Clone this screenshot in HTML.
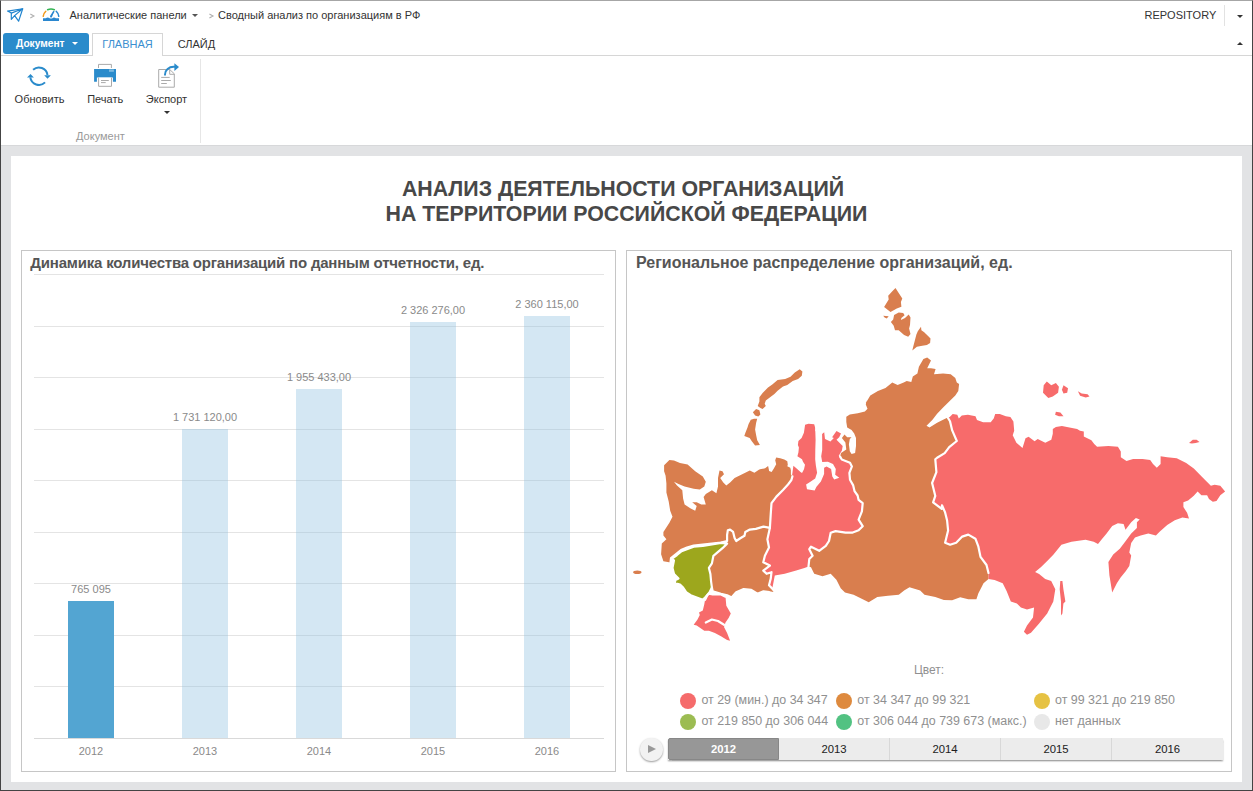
<!DOCTYPE html>
<html><head><meta charset="utf-8">
<style>
*{box-sizing:border-box;margin:0;padding:0}
html,body{width:1253px;height:791px;overflow:hidden;background:#fff}
body{font-family:"Liberation Sans",sans-serif;position:relative}
.a{position:absolute;white-space:nowrap;line-height:1}
.f11{font-size:11px}
#frame{position:absolute;left:0;top:0;width:1253px;height:791px;border-left:1px solid #444;border-right:1px solid #444;border-bottom:1px solid #444;border-top:1px solid #a6a6a6;pointer-events:none;z-index:50}
.bar{position:absolute;width:46px;background:rgba(139,190,223,0.37)}
.grid{position:absolute;left:34px;width:570px;height:1px;background:#e4e4e4}
.blab{position:absolute;font-size:11px;color:#8a8a8a;line-height:1;white-space:nowrap;text-align:center;width:114px}
.lg{position:absolute;font-size:12.45px;color:#909090;line-height:1;white-space:nowrap}
.dot{position:absolute;width:16px;height:16px;border-radius:50%}
.seg{position:absolute;top:738px;height:22px;width:111px;background:#ececec;border-right:1px solid #d8d8d8;font-size:11.3px;font-weight:400;color:#1e1e1e;-webkit-text-stroke:0.05px #1e1e1e;text-align:center;line-height:22px}
</style></head><body>
<div id="frame"></div>

<!-- top bar -->
<svg class="a" style="left:0;top:0" width="240" height="100" viewBox="0 0 240 100">
 <g fill="none" stroke="#1f84cf" stroke-width="1.15" stroke-linejoin="round" stroke-linecap="round">
  <path d="M7.5 11.1 L22.7 8.8 L18.6 21.2 L14.6 15.6 L11.3 19.4 L11.3 13.1 Z"/>
  <path d="M11.3 13.1 L22.7 8.8 M14.6 15.6 L22.7 8.8"/>
 </g>
 <g fill="none" stroke-width="1.5" stroke-linecap="round">
  <path d="M43.2 16.3 A8.1 8.1 0 0 1 45.8 11.3" stroke="#f19a1d"/>
  <path d="M47.6 9.7 A8.1 8.1 0 0 1 54.4 9.7" stroke="#34b453"/>
  <path d="M56.2 11.3 A8.1 8.1 0 0 1 58.8 16.3" stroke="#2a87cf"/>
  <path d="M50.9 16.2 L53.7 11.7" stroke="#2a87cf" stroke-width="1.6"/>
 </g>
 <path d="M43 18.2 L45.8 18.2 Q47.7 16.6 49.6 18.2 Q51 19 52.4 18.2 Q53.9 16.6 55.9 18.2 L59 18.2 L59 20.9 L43 20.9 Z" fill="#2a87cf"/>
 <path d="M49.8 17.2 L51.8 17.4 L53.9 11.5 Z" fill="#2a87cf"/>
 <path d="M30.3 14 L33.9 16 L30.3 18 M209.4 14 L213 16 L209.4 18" fill="none" stroke="#b0b0b0" stroke-width="1.1"/>
 <!-- refresh -->
 <g fill="none" stroke="#2a8bcb" stroke-width="2">
  <path d="M33.1 69.7 A8.7 8.7 0 0 1 47.5 75"/>
  <path d="M30.3 77.4 A8.7 8.7 0 0 0 45.05 82.35"/>
 </g>
 <path d="M44.2 75.3 L50.9 75.3 L47.5 78.8 Z M27 77.4 L33.9 77.4 L30.5 74 Z" fill="#2a8bcb"/>
 <!-- printer -->
 <path d="M98.5 68 V64.4 H111.4 V68" fill="none" stroke="#aaa" stroke-width="1"/>
 <path d="M94.1 69 H116 V81.8 H112.9 V77.6 H96.9 V81.8 H94.1 Z" fill="#2a8bcb"/>
 <rect x="109" y="69.4" width="4.9" height="2.4" fill="#7ab8e0"/>
 <path d="M98.6 77.6 V86.3 H111.5 V77.6" fill="#fff" stroke="#aaa" stroke-width="1"/>
 <path d="M101 80.5 H108.8 M101 82.6 H105.7" stroke="#aaa" stroke-width="1"/>
 <!-- export -->
 <path d="M158.7 69.5 H169.7 L174.3 73.8 V87.2 H158.7 Z" fill="#fff" stroke="#aaa" stroke-width="1"/>
 <path d="M169.7 69.5 V74.3 H174.3" fill="none" stroke="#aaa" stroke-width="1"/>
 <path d="M161.2 77.4 H169.7 M161.2 80.5 H170.8 M161.2 83.5 H166.8" stroke="#aaa" stroke-width="1"/>
 <path d="M165 75.4 V74.5 A8.6 7.8 0 0 1 173.6 66.8 H175" fill="none" stroke="#2a8bcb" stroke-width="1.9"/>
 <path d="M174.4 63.2 L179 67.1 L174.4 71 Z" fill="#2a8bcb"/>
</svg>


<div class="a f11" style="left:69.5px;top:9.7px;color:#333">Аналитические панели</div>
<div class="a" style="left:192px;top:14px;width:0;height:0;border-left:3px solid transparent;border-right:3px solid transparent;border-top:3px solid #555"></div>

<div class="a f11" style="left:218px;top:9.7px;color:#333">Сводный анализ по организациям в РФ</div>
<div class="a f11" style="left:1144.5px;top:9.8px;color:#333">REPOSITORY</div>
<div class="a" style="left:1224px;top:5px;width:1px;height:21px;background:#e2e2e2"></div>
<div class="a" style="left:1237px;top:14.5px;width:0;height:0;border-left:3px solid transparent;border-right:3px solid transparent;border-top:3px solid #333"></div>

<!-- tabs row -->
<div class="a" style="left:1px;top:55px;width:1251px;height:1px;background:#d6d6d6"></div>
<div class="a" style="left:3px;top:33px;width:86px;height:21px;background:#2a8bcb;border-radius:3px"></div>
<div class="a" style="left:16px;top:38.5px;font-size:10.2px;font-weight:700;color:#fff">Документ</div>
<div class="a" style="left:72px;top:42px;width:0;height:0;border-left:3px solid transparent;border-right:3px solid transparent;border-top:3px solid #fff"></div>
<div class="a" style="left:92px;top:33px;width:71px;height:23px;background:#fff;border:1px solid #d6d6d6;border-bottom:none"></div>
<div class="a f11" style="left:102.3px;top:38.7px;color:#3b8fd0">ГЛАВНАЯ</div>
<div class="a f11" style="left:177.7px;top:38.7px;color:#333">СЛАЙД</div>
<div class="a" style="left:1237px;top:42px;width:0;height:0;border-left:3px solid transparent;border-right:3px solid transparent;border-bottom:3px solid #333"></div>

<!-- ribbon -->

<div class="a f11" style="left:14.6px;top:93.7px;color:#333">Обновить</div>
<div class="a f11" style="left:87.2px;top:93.7px;color:#333">Печать</div>
<div class="a f11" style="left:145.8px;top:93.7px;color:#333">Экспорт</div>
<div class="a" style="left:164px;top:111px;width:0;height:0;border-left:3px solid transparent;border-right:3px solid transparent;border-top:3px solid #333"></div>
<div class="a f11" style="left:76px;top:130.7px;color:#999">Документ</div>
<div class="a" style="left:200px;top:59px;width:1px;height:84px;background:#e6e6e6"></div>

<!-- gray work area -->
<div class="a" style="left:1px;top:145px;width:1251px;height:645px;background:#e2e3e5;border-top:1px solid #d7d8da"></div>
<div class="a" style="left:11px;top:156px;width:1231px;height:626px;background:#fff"></div>

<!-- title -->
<div class="a" style="left:11px;top:177px;width:1224px;text-align:center;font-size:21.33px;font-weight:700;color:#484848;line-height:25px">АНАЛИЗ ДЕЯТЕЛЬНОСТИ ОРГАНИЗАЦИЙ</div>
<div class="a" style="left:11px;top:202px;width:1231px;text-align:center;font-size:21.33px;font-weight:700;color:#484848;line-height:25px">НА ТЕРРИТОРИИ РОССИЙСКОЙ ФЕДЕРАЦИИ</div>

<!-- left panel -->
<div class="a" style="left:21px;top:250px;width:595px;height:522px;border:1px solid #c6c6c6"></div>
<div class="a" style="left:30.3px;top:255.1px;font-size:15px;letter-spacing:-0.2px;font-weight:700;color:#555">Динамика количества организаций по данным отчетности, ед.</div>

<div id="chart">
<div class="grid" style="top:274px"></div>
<div class="grid" style="top:326px"></div>
<div class="grid" style="top:377px"></div>
<div class="grid" style="top:429px"></div>
<div class="grid" style="top:480px"></div>
<div class="grid" style="top:532px"></div>
<div class="grid" style="top:583px"></div>
<div class="grid" style="top:635px"></div>
<div class="grid" style="top:686px"></div>
<div class="grid" style="top:738px;background:#d9d9d9"></div>
<div class="bar" style="left:182px;top:429px;height:309px"></div>
<div class="bar" style="left:296px;top:389px;height:349px"></div>
<div class="bar" style="left:410px;top:322px;height:416px"></div>
<div class="bar" style="left:524px;top:316px;height:422px"></div>
<div class="bar" style="left:68px;top:601px;height:137px;background:#53a5d2"></div>
<div class="blab" style="left:34px;top:583.7px">765 095</div>
<div class="blab" style="left:148px;top:411.7px">1 731 120,00</div>
<div class="blab" style="left:262px;top:371.7px">1 955 433,00</div>
<div class="blab" style="left:376px;top:304.7px">2 326 276,00</div>
<div class="blab" style="left:490px;top:298.7px">2 360 115,00</div>
<div class="blab" style="left:34px;top:745.7px">2012</div>
<div class="blab" style="left:148px;top:745.7px">2013</div>
<div class="blab" style="left:262px;top:745.7px">2014</div>
<div class="blab" style="left:376px;top:745.7px">2015</div>
<div class="blab" style="left:490px;top:745.7px">2016</div>
</div>

<!-- right panel -->
<div class="a" style="left:626px;top:250px;width:606px;height:522px;border:1px solid #c6c6c6"></div>
<div class="a" style="left:636px;top:255.3px;font-size:16px;font-weight:700;color:#555">Региональное распределение организаций, ед.</div>

<!-- MAP -->
<svg class="a" id="map" style="left:0;top:0" width="1253" height="791" viewBox="0 0 1253 791">
<polygon points="799.7,369.3 802.4,371.5 801.8,375.8 798.1,379.0 792.7,381.1 787.3,384.9 783.0,386.5 777.6,390.8 774.4,394.0 770.1,397.3 765.8,400.5 764.7,403.7 765.8,405.9 762.6,409.1 760.4,408.0 757.7,405.9 759.4,401.6 759.4,397.3 762.6,393.0 768.0,387.6 772.3,384.4 777.6,380.1 785.2,379.0 790.5,376.8 794.8,372.5" fill="#d97e4e"/>
<polygon points="756.1,409.1 759.4,410.2 760.4,414.5 758.3,416.6 755.1,415.5 752.9,412.3" fill="#d97e4e"/>
<polygon points="754.0,418.8 757.2,418.8 756.1,423.1 755.1,429.5 756.1,434.9 757.2,440.3 759.9,445.1 755.1,445.6 751.8,441.3 749.7,438.1 744.3,436.0 745.4,432.7 747.5,427.4 748.6,424.1 750.8,419.8" fill="#d97e4e"/>
<polygon points="883.2,315.8 888.7,316.2 886.8,318.5 884.6,317.6" fill="#d97e4e"/>
<polygon points="895.5,288.0 898.7,293.0 902.3,298.5 900.9,302.1 901.4,306.7 896.8,308.5 890.5,312.1 884.1,307.1 888.7,299.4 888.2,295.7 892.3,291.2" fill="#d97e4e"/>
<polygon points="894.1,314.9 898.7,312.6 903.2,313.0 904.6,315.3 901.4,318.0 900.9,319.9 905.0,318.0 908.7,314.4 910.5,317.6 910.0,324.9 909.1,328.5 910.5,334.0 908.2,336.7 904.1,334.9 898.7,330.3 895.0,330.3 893.7,325.8 890.9,322.1 893.2,319.4" fill="#d97e4e"/>
<polygon points="921.0,326.7 921.4,330.3 924.2,332.2 927.8,335.8 930.5,338.5 930.1,343.1 926.9,344.9 922.3,345.8 916.9,346.7 912.3,350.4 913.2,346.7 915.1,339.4 916.4,334.4 917.8,331.2" fill="#d97e4e"/>
<ellipse cx="637.3" cy="572.2" rx="4.2" ry="1.8" fill="#d97e4e"/>
<polygon points="664.1,465.2 669.4,459.9 674.0,460.6 680.0,462.9 687.6,464.4 695.2,471.2 702.8,476.5 705.8,481.8 704.3,486.4 699.8,489.4 693.7,488.7 684.6,486.4 678.5,484.1 674.0,481.8 677.0,485.6 682.3,490.2 683.1,498.5 684.6,504.6 690.7,508.4 695.2,510.7 696.7,506.1 692.2,502.3 696.7,502.3 701.3,504.6 705.8,504.6 703.6,497.0 705.8,494.0 711.9,490.2 716.4,493.2 718.0,486.4 718.0,478.1 719.5,470.5 722.5,471.2 724.0,474.3 720.2,478.1 723.3,482.6 726.3,485.6 730.1,482.6 734.6,478.1 742.2,474.3 749.8,470.5 754.4,472.7 758.9,469.7 760.0,469.3 765.1,468.3 768.1,466.0 768.6,468.3 769.1,470.9 771.6,471.9 773.7,468.8 776.2,464.3 775.2,460.2 776.2,457.5 780.2,458.2 784.3,459.5 787.3,461.2 787.8,464.8 787.3,466.3 790.3,467.8 790.9,470.3 790.9,474.4 792.4,476.4 791.4,480.0 788.0,484.5 783.0,490.0 776.4,496.6 771.5,503.2 770.7,514.7 769.9,527.8 763.5,526.6 755.9,528.9 749.8,529.6 745.3,531.9 744.5,535.7 740.7,538.0 736.2,541.0 734.6,538.0 733.1,531.9 730.1,529.6 727.8,530.4 727.1,534.9 727.1,541.0 721.0,542.5 711.9,543.5 702.8,544.5 693.7,545.5 687.0,547.5 681.0,550.0 676.0,554.0 671.0,558.0 670.5,562.5 663.4,561.2 661.1,554.3 661.8,543.6 666.4,539.3 663.4,535.5 663.4,531.9 669.4,522.8 672.5,516.7 670.2,510.7 668.7,501.6 666.4,492.5 666.4,483.4 665.6,475.8 664.1,471.2" fill="#d97e4e"/>
<polygon points="769.9,527.8 763.5,526.6 755.9,528.9 749.8,529.6 745.3,531.9 744.5,535.7 740.7,538.0 736.2,541.0 734.6,538.0 733.1,531.9 730.1,529.6 727.8,530.4 727.1,534.9 727.1,541.0 727.1,543.6 722.5,548.2 717.2,552.7 713.4,555.8 711.9,563.4 708.9,567.9 710.4,574.0 711.1,581.6 711.9,587.6 712.7,591.4 721.0,593.7 727.1,595.2 731.6,597.5 736.2,592.2 743.7,589.1 751.3,589.9 757.4,593.7 763.5,591.4 769.5,592.2 776.3,593.7 772.3,588.6 769.0,585.3 770.7,578.8 771.5,572.2 766.6,573.8 763.3,570.6 769.9,565.6 763.3,562.3 764.9,555.8 769.0,547.5 767.4,539.3" fill="#d97e4e"/>
<polygon points="727.1,543.6 722.5,548.2 717.2,552.7 713.4,555.8 711.9,563.4 708.9,567.9 710.4,574.0 711.1,581.6 711.9,587.6 709.6,592.2 705.8,596.7 702.8,599.8 696.7,597.5 690.7,595.2 686.1,592.2 683.1,587.6 680.0,584.6 674.7,583.1 675.5,580.0 678.5,578.5 674.0,574.0 672.5,567.9 674.0,560.3 671.7,558.8 677.0,555.0 681.6,551.2 687.6,549.0 693.7,546.7 702.8,545.9 711.9,544.4 721.0,542.9" fill="#9da71d"/>
<polygon points="708.9,593.7 712.7,594.5 721.0,594.5 725.5,596.7 726.3,605.8 730.8,613.4 728.6,618.0 725.5,622.5 724.0,627.1 727.1,633.1 730.1,640.7 727.1,640.0 721.0,636.2 714.9,633.1 708.9,630.8 704.3,630.8 696.7,625.5 693.7,624.8 697.5,619.5 699.8,614.9 699.0,612.6 702.8,610.4 704.3,604.3 705.1,599.8 707.3,595.2" fill="#f76b6b"/>
<polygon points="791.4,480.0 792.4,472.9 793.4,465.8 796.9,468.8 800.5,471.9 802.0,472.9 804.0,469.3 805.0,464.8 803.0,461.8 802.0,459.2 797.4,456.2 798.4,452.6 798.9,447.6 797.9,445.1 798.4,441.0 801.6,437.9 803.9,432.8 805.1,424.8 808.5,423.7 814.2,424.2 815.3,428.2 815.3,431.0 822.1,433.9 824.2,432.3 825.0,438.9 830.4,441.6 833.9,438.1 832.1,437.2 836.5,431.0 841.0,433.6 839.2,437.2 836.5,439.8 839.2,442.5 842.7,446.0 841.9,450.4 839.2,454.9 838.6,455.1 841.8,459.5 850.0,462.7 851.9,466.4 849.4,472.8 850.0,479.7 853.2,485.4 854.5,491.1 857.6,495.5 858.6,499.9 862.7,503.2 861.9,511.4 858.6,519.6 862.7,526.2 858.6,530.3 852.1,532.7 845.5,532.7 835.6,531.1 830.7,532.7 829.0,541.0 825.8,545.9 819.2,550.8 811.0,546.7 809.3,549.2 812.6,555.8 809.3,559.0 808.5,566.4 804.4,568.1 796.2,570.6 784.7,573.8 774.8,575.5 772.3,588.6 769.0,585.3 770.7,578.8 771.5,572.2 766.6,573.8 763.3,570.6 769.9,565.6 763.3,562.3 764.9,555.8 769.0,547.5 767.4,539.3 769.9,527.8 770.7,514.7 771.5,503.2 776.4,496.6 783.0,490.0 788.0,484.5" fill="#f76b6b"/>
<polygon points="866.6,400.0 865.8,404.4 867.5,408.8 864.9,411.5 857.8,413.3 849.8,414.6 846.3,416.8 846.3,422.1 847.2,427.4 851.6,430.1 854.2,433.6 856.0,438.1 856.0,446.0 855.1,453.1 851.6,454.0 849.8,451.3 848.9,444.2 849.8,438.9 851.6,437.2 847.2,437.2 844.5,434.5 841.9,438.1 845.4,442.5 846.3,449.6 841.0,453.1 840.1,456.6 841.8,459.5 850.0,462.7 851.9,466.4 849.4,472.8 850.0,479.7 853.2,485.4 854.5,491.1 857.6,495.5 858.6,499.9 862.7,503.2 861.9,511.4 858.6,519.6 862.7,526.2 858.6,530.3 852.1,532.7 845.5,532.7 835.6,531.1 830.7,532.7 829.0,541.0 825.8,545.9 819.2,550.8 811.0,546.7 809.3,549.2 812.6,555.8 809.3,559.0 808.5,566.4 811.0,567.3 814.2,573.8 822.5,576.3 830.7,573.8 836.4,579.7 840.7,588.3 845.0,592.6 853.6,594.7 862.2,599.0 868.7,602.2 877.3,596.9 888.0,595.8 898.8,594.7 904.1,590.4 909.5,587.2 920.2,590.4 924.5,594.7 935.3,596.9 943.9,600.1 952.1,600.3 960.2,597.3 968.3,599.3 976.4,599.3 978.4,593.3 981.5,587.2 983.5,583.2 988.5,579.1 988.5,573.0 986.5,565.0 980.5,556.9 978.4,546.7 975.4,538.7 968.3,534.6 962.2,536.6 956.2,542.7 950.1,544.7 945.1,542.7 948.1,530.6 947.1,520.5 945.1,512.4 942.0,505.3 941.7,508.8 933.1,502.3 935.3,495.9 932.1,483.0 936.4,472.2 935.3,459.3 937.1,457.7 944.7,453.1 949.2,447.1 956.8,441.0 952.2,430.4 950.0,421.3 947.7,417.5 943.1,419.8 937.1,422.8 929.5,427.4 926.5,425.8 932.5,419.8 937.1,413.7 943.1,407.6 949.2,401.6 955.3,395.5 958.3,391.0 959.1,384.1 956.8,382.6 955.3,378.1 950.7,374.3 943.1,373.5 934.0,374.3 935.6,369.0 931.0,368.2 927.2,368.2 931.0,360.6 927.2,357.6 923.4,359.1 918.9,366.7 917.4,373.5 912.8,376.5 911.3,381.9 906.7,381.1 903.7,382.6 897.6,384.9 892.3,382.6 885.5,387.9 877.9,391.0 870.3,395.5 865.8,403.1" fill="#d97e4e"/>
<polygon points="947.7,417.5 949.7,417.0 952.7,414.0 957.3,414.7 958.8,418.5 961.8,415.5 967.9,414.7 975.5,416.3 977.0,420.0 983.1,422.3 990.7,422.3 993.7,418.5 995.2,414.0 999.8,414.0 1005.8,416.3 1010.4,417.0 1013.4,421.6 1014.2,430.7 1012.7,435.2 1016.4,442.8 1022.5,448.1 1025.5,438.2 1028.6,436.7 1034.6,441.3 1037.7,439.0 1045.3,442.8 1051.3,439.8 1052.8,433.7 1052.8,429.1 1055.9,426.9 1061.9,426.1 1069.5,427.6 1077.1,429.1 1080.0,430.7 1083.8,431.6 1083.8,436.4 1091.4,440.2 1094.2,444.0 1097.1,446.8 1108.4,445.9 1117.9,446.8 1120.8,451.5 1120.8,457.2 1126.5,461.0 1133.1,459.1 1142.6,459.1 1150.2,460.1 1153.0,463.9 1156.8,467.7 1160.6,463.9 1160.6,456.3 1167.2,457.2 1176.7,458.2 1186.2,462.9 1193.8,468.6 1201.4,476.2 1207.1,481.9 1210.9,485.7 1214.6,484.7 1220.3,485.7 1225.1,491.4 1220.3,495.2 1216.5,500.9 1212.8,501.8 1209.0,499.0 1207.1,495.2 1201.4,495.2 1197.6,491.4 1193.8,495.7 1188.1,500.4 1183.4,502.3 1183.4,507.1 1187.1,512.8 1189.0,518.4 1182.4,517.5 1174.8,520.3 1167.2,525.1 1159.6,531.7 1155.9,535.5 1148.3,533.6 1140.7,535.5 1135.0,537.4 1131.2,543.1 1129.3,552.6 1131.2,555.4 1129.3,565.9 1125.5,571.5 1120.8,577.2 1117.0,582.9 1112.2,592.4 1109.4,575.3 1108.4,562.1 1113.2,554.5 1119.8,548.8 1125.5,541.2 1131.2,533.6 1136.9,527.9 1136.9,522.2 1139.7,519.4 1135.9,518.1 1131.2,522.2 1125.5,529.8 1123.6,524.1 1117.9,523.2 1112.2,526.0 1106.6,533.6 1101.8,539.3 1098.0,544.0 1093.7,541.7 1085.6,539.7 1071.5,541.7 1061.4,544.7 1053.3,554.8 1047.2,560.9 1041.1,567.0 1035.1,572.0 1039.1,574.1 1045.2,579.1 1051.2,581.1 1055.3,589.2 1053.3,601.4 1047.2,613.5 1039.1,623.6 1031.0,632.7 1027.0,634.7 1023.9,631.7 1027.0,625.6 1033.0,617.5 1034.1,607.4 1027.0,609.4 1020.9,607.4 1016.9,603.4 1010.8,601.4 1006.7,591.2 1002.7,583.2 994.6,580.1 988.5,579.1 988.5,573.0 986.5,565.0 980.5,556.9 978.4,546.7 975.4,538.7 968.3,534.6 962.2,536.6 956.2,542.7 950.1,544.7 945.1,542.7 948.1,530.6 947.1,520.5 945.1,512.4 942.0,505.3 941.7,508.8 933.1,502.3 935.3,495.9 932.1,483.0 936.4,472.2 935.3,459.3 937.1,457.7 944.7,453.1 949.2,447.1 956.8,441.0 952.2,430.4 950.0,421.3" fill="#f76b6b"/>
<polygon points="1060.3,581.1 1062.4,581.1 1063.4,589.2 1065.4,601.4 1063.4,603.4 1062.4,613.5 1061.0,615.5 1061.0,601.4 1059.7,589.2" fill="#f76b6b"/>
<polygon points="1046.8,381.4 1051.3,385.2 1055.9,382.9 1058.9,386.7 1058.1,392.7 1052.8,396.5 1048.3,398.1 1043.0,392.7 1043.7,385.2" fill="#f76b6b"/>
<polygon points="1063.5,385.2 1068.0,388.2 1067.2,392.7 1063.5,393.5 1061.9,389.7" fill="#f76b6b"/>
<polygon points="1077.9,391.2 1081.7,393.5 1087.6,394.3 1089.5,396.6 1085.7,397.5 1080.1,395.8" fill="#f76b6b"/>
<polygon points="1055.9,411.7 1060.4,412.5 1063.5,416.3 1058.9,416.3 1055.1,414.7" fill="#f76b6b"/>
<polygon points="1189.0,443.0 1192.8,439.8 1196.6,439.8 1199.5,442.1 1195.7,443.0 1191.9,443.6" fill="#f76b6b"/>
<polygon points="815.6,421.0 821.5,421.0 822.1,433.9 822.2,440.0 822.2,450.0 821.2,456.3 822.2,462.0 827.9,461.7 833.0,463.9 835.8,469.0 835.2,474.7 839.3,477.8 834.2,479.4 832.3,476.6 831.1,469.0 826.6,466.4 824.1,467.7 824.1,474.0 820.9,481.6 816.5,486.7 814.6,490.5 807.0,489.2 806.1,484.5 810.8,481.6 815.2,478.5 817.1,472.8 815.9,465.8 815.2,459.5 815.3,450.0 815.6,440.0 815.3,431.0" fill="#fff"/>
<g fill="none" stroke="#fff" stroke-width="2.2" stroke-linejoin="round" stroke-linecap="round">
<polyline points="792.4,476.4 791.4,480.0 788.0,484.5 783.0,490.0 776.4,496.6 771.5,503.2 770.7,514.7 769.9,527.8 763.5,526.6 755.9,528.9 749.8,529.6 745.3,531.9 744.5,535.7 740.7,538.0 736.2,541.0 734.6,538.0 733.1,531.9 730.1,529.6 727.8,530.4 727.1,534.9 727.1,541.0 721.0,542.5 711.9,543.5 702.8,544.5 693.7,545.5 687.0,547.5 681.0,550.0 676.0,554.0 671.0,558.0 670.5,562.5"/>
<polyline points="727.1,543.6 722.5,548.2 717.2,552.7 713.4,555.8 711.9,563.4 708.9,567.9 710.4,574.0 711.1,581.6 711.9,587.6 709.6,592.2 705.8,596.7 702.8,599.8 696.7,597.5 690.7,595.2 686.1,592.2 683.1,587.6 680.0,584.6 674.7,583.1 675.5,580.0 678.5,578.5 674.0,574.0 672.5,567.9 674.0,560.3 671.7,558.8 677.0,555.0 681.6,551.2 687.6,549.0 693.7,546.7 702.8,545.9 711.9,544.4 721.0,542.9 727.1,543.6"/>
<polyline points="711.9,587.6 712.7,591.4 721.0,593.7 727.1,595.2 731.6,597.5 736.2,592.2 743.7,589.1 751.3,589.9 757.4,593.7 763.5,591.4 769.5,592.2 776.3,593.7 772.3,588.6 769.0,585.3 770.7,578.8 771.5,572.2 766.6,573.8 763.3,570.6 769.9,565.6 763.3,562.3 764.9,555.8 769.0,547.5 767.4,539.3 769.9,527.8"/>
<polyline points="705.1,599.8 707.3,595.2 708.9,593.7 712.7,594.5 721.0,594.5 725.5,596.7"/>
<polyline points="705.8,622.5 711.9,619.5 718.0,621.0 724.0,624.8"/>
<polyline points="840.1,456.6 841.8,459.5 850.0,462.7 851.9,466.4 849.4,472.8 850.0,479.7 853.2,485.4 854.5,491.1 857.6,495.5 858.6,499.9 862.7,503.2 861.9,511.4 858.6,519.6 862.7,526.2 858.6,530.3 852.1,532.7 845.5,532.7 835.6,531.1 830.7,532.7 829.0,541.0 825.8,545.9 819.2,550.8 811.0,546.7 809.3,549.2 812.6,555.8 809.3,559.0 808.5,566.4"/>
<polyline points="988.5,573.0 986.5,565.0 980.5,556.9 978.4,546.7 975.4,538.7 968.3,534.6 962.2,536.6 956.2,542.7 950.1,544.7 945.1,542.7 948.1,530.6 947.1,520.5 945.1,512.4 942.0,505.3 941.7,508.8 933.1,502.3 935.3,495.9 932.1,483.0 936.4,472.2 935.3,459.3 937.1,457.7 944.7,453.1 949.2,447.1 956.8,441.0 952.2,430.4 950.0,421.3 947.7,417.5"/>
</g>
</svg>

<!-- legend -->
<div class="lg" style="left:913.9px;top:664.3px;font-size:12px">Цвет:</div>
<div class="dot" style="left:680px;top:693px;background:#f56b6b"></div>
<div class="lg" style="left:701.4px;top:694.4px">от 29 (мин.) до 34 347</div>
<div class="dot" style="left:836px;top:693px;background:#de8a3e"></div>
<div class="lg" style="left:857.3px;top:694.4px">от 34 347 до 99 321</div>
<div class="dot" style="left:1034px;top:693px;background:#e6c243"></div>
<div class="lg" style="left:1055px;top:694.4px">от 99 321 до 219 850</div>
<div class="dot" style="left:680px;top:714px;background:#9cbc52"></div>
<div class="lg" style="left:701.4px;top:715.4px">от 219 850 до 306 044</div>
<div class="dot" style="left:836px;top:714px;background:#52c282"></div>
<div class="lg" style="left:857.3px;top:715.4px">от 306 044 до 739 673 (макс.)</div>
<div class="dot" style="left:1034px;top:714px;background:#e8e8e8"></div>
<div class="lg" style="left:1055px;top:715.4px">нет данных</div>

<!-- timeline -->
<div class="a" style="left:668px;top:738px;width:555px;height:22px;box-shadow:0 1.5px 1.5px rgba(0,0,0,0.35)"></div>
<div class="seg" style="left:668px;background:#979797;border:1px solid #878787;border-radius:2px 0 0 2px;color:#fff;-webkit-text-stroke:0;font-weight:700;width:111px;line-height:21px">2012</div>
<div class="seg" style="left:779px">2013</div>
<div class="seg" style="left:890px">2014</div>
<div class="seg" style="left:1001px">2015</div>
<div class="seg" style="left:1112px;border-right:none">2016</div>
<div class="a" style="left:640px;top:738px;width:22.5px;height:22.5px;border-radius:50%;background:#f2f2f2;box-shadow:0 1px 2px rgba(0,0,0,0.4)"></div>
<div class="a" style="left:648px;top:744.5px;width:0;height:0;border-top:4.2px solid transparent;border-bottom:4.2px solid transparent;border-left:8px solid #999"></div>

</body></html>
